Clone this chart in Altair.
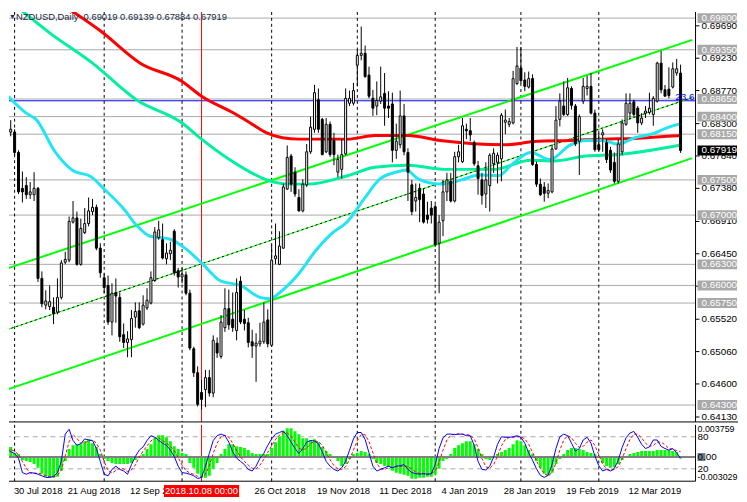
import altair as alt
import pandas as pd

FONT = "Liberation Sans"

# ---------------- daily candles, bar 0 = 30 Jul 2018 ... bar 173 = last bar ----------------
opens = [
0.6795,0.6818,0.6818,0.6789,0.6738,0.6742,0.6729,0.6729,0.6738,0.6610,
0.6572,0.6570,0.6569,0.6562,0.6583,0.6633,0.6636,0.6690,0.6696,0.6630,
0.6675,0.6688,0.6705,0.6711,0.6653,0.6611,0.6600,0.6548,0.6590,0.6583,
0.6530,0.6519,0.6523,0.6555,0.6564,0.6545,0.6568,0.6575,0.6607,0.6668,
0.6665,0.6638,0.6645,0.6677,0.6621,0.6612,0.6615,0.6589,0.6510,0.6476,
0.6448,0.6452,0.6469,0.6447,0.6518,0.6499,0.6540,0.6567,0.6552,0.6536,
0.6606,0.6552,0.6547,0.6520,0.6514,0.6517,0.6520,0.6551,0.6515,0.6638,
0.6630,0.6653,0.6737,0.6784,0.6761,0.6725,0.6706,0.6743,0.6790,0.6822,
0.6864,0.6836,0.6790,0.6829,0.6806,0.6761,0.6765,0.6787,0.6859,0.6859,
0.6913,0.6927,0.6930,0.6899,0.6866,0.6855,0.6862,0.6873,0.6855,0.6858,
0.6792,0.6800,0.6841,0.6789,0.6743,0.6720,0.6738,0.6730,0.6700,0.6710,
0.6712,0.6660,0.6692,0.6733,0.6748,0.6720,0.6783,0.6776,0.6822,0.6820,
0.6803,0.6770,0.6750,0.6730,0.6742,0.6773,0.6775,0.6780,0.6832,0.6829,
0.6831,0.6887,0.6909,0.6892,0.6882,0.6894,0.6772,0.6744,0.6740,0.6731,
0.6733,0.6794,0.6836,0.6855,0.6843,0.6880,0.6855,0.6805,0.6862,0.6880,
0.6883,0.6845,0.6800,0.6814,0.6803,0.6792,0.6775,0.6748,0.6790,0.6829,
0.6845,0.6861,0.6852,0.6831,0.6845,0.6846,0.6843,0.6862,0.6916,0.6878,
0.6879,0.6882,0.6902,0.69019]
highs = [
0.6835,0.6835,0.6822,0.6792,0.6762,0.6754,0.6747,0.6761,0.6740,0.6620,
0.6593,0.6600,0.6583,0.6610,0.6636,0.6648,0.6698,0.6720,0.6705,0.6695,
0.6710,0.6725,0.6723,0.6715,0.6660,0.6617,0.6614,0.6603,0.6610,0.6590,
0.6546,0.6535,0.6565,0.6576,0.6576,0.6586,0.6596,0.6620,0.6683,0.6692,
0.6688,0.6660,0.6662,0.6680,0.6625,0.6625,0.6620,0.6594,0.6513,0.6485,
0.6466,0.6480,0.6480,0.6529,0.6526,0.6558,0.6596,0.6594,0.6590,0.6610,
0.6613,0.6565,0.6554,0.6537,0.6532,0.6547,0.6576,0.6566,0.6658,0.6688,
0.6677,0.6745,0.6799,0.6787,0.6768,0.6737,0.6751,0.6801,0.6840,0.6885,
0.6880,0.6838,0.6838,0.6833,0.6817,0.6786,0.6808,0.6880,0.6877,0.6888,
0.6935,0.6968,0.6941,0.6911,0.6878,0.6890,0.6911,0.6902,0.6876,0.6874,
0.6830,0.6877,0.6858,0.6795,0.6750,0.6745,0.6745,0.6738,0.6719,0.6720,
0.6715,0.6700,0.6750,0.6760,0.6760,0.6790,0.6800,0.6838,0.6830,0.6838,
0.6806,0.6777,0.6760,0.6775,0.6788,0.6795,0.6789,0.6845,0.6850,0.6838,
0.6905,0.6939,0.6939,0.6903,0.6904,0.6900,0.6776,0.6752,0.6747,0.6745,
0.6800,0.6855,0.6873,0.6890,0.6895,0.6883,0.6858,0.6843,0.6895,0.6898,
0.6902,0.6850,0.6817,0.6822,0.6808,0.6797,0.6789,0.6808,0.6836,0.6873,
0.6873,0.6864,0.6855,0.6845,0.6855,0.6874,0.6869,0.6918,0.6933,0.6885,
0.6910,0.6917,0.6922,0.69139]
lows = [
0.6785,0.6812,0.6785,0.6730,0.6718,0.6723,0.6723,0.6720,0.6605,0.6569,
0.6566,0.6565,0.6545,0.6559,0.6580,0.6630,0.6633,0.6688,0.6628,0.6628,
0.6673,0.6684,0.6700,0.6650,0.6611,0.6589,0.6544,0.6529,0.6547,0.6520,
0.6511,0.6498,0.6498,0.6540,0.6538,0.6543,0.6565,0.6573,0.6605,0.6665,
0.6637,0.6630,0.6636,0.6614,0.6597,0.6603,0.6586,0.6508,0.6470,0.6428,
0.6424,0.6427,0.6442,0.6441,0.6497,0.6496,0.6534,0.6537,0.6534,0.6522,
0.6545,0.6536,0.6512,0.6497,0.6463,0.6513,0.6517,0.6512,0.6513,0.6630,
0.6629,0.6652,0.6736,0.6733,0.6726,0.6705,0.6704,0.6740,0.6787,0.6817,
0.6817,0.6785,0.6788,0.6783,0.6771,0.6754,0.6752,0.6785,0.6855,0.6856,
0.6883,0.6920,0.6895,0.6866,0.6841,0.6842,0.6858,0.6827,0.6838,0.6775,
0.6780,0.6795,0.6785,0.6720,0.6700,0.6705,0.6690,0.6688,0.6688,0.6688,
0.6655,0.6589,0.6670,0.6720,0.6718,0.6718,0.6775,0.6774,0.6808,0.6805,
0.6770,0.6729,0.6715,0.6710,0.6705,0.6760,0.6745,0.6748,0.6815,0.6825,
0.6829,0.6885,0.6887,0.6876,0.6880,0.6770,0.6740,0.6727,0.6719,0.6724,
0.6731,0.6793,0.6826,0.6841,0.6841,0.6850,0.6798,0.6757,0.6858,0.6870,
0.6843,0.6790,0.6790,0.6790,0.6774,0.6760,0.6745,0.6745,0.6785,0.6827,
0.6836,0.6840,0.6817,0.6828,0.6838,0.6843,0.6827,0.6860,0.6873,0.6869,
0.6866,0.6880,0.6898,0.67884]
closes = [
0.6830,0.6822,0.6789,0.6733,0.6733,0.6729,0.6733,0.6738,0.6610,0.6574,
0.6578,0.6577,0.6560,0.6583,0.6632,0.6637,0.6691,0.6696,0.6630,0.6681,
0.6688,0.6706,0.6711,0.6653,0.6618,0.6597,0.6548,0.6589,0.6585,0.6527,
0.6519,0.6524,0.6553,0.6563,0.6540,0.6572,0.6579,0.6611,0.6676,0.6679,
0.6639,0.6646,0.6650,0.6618,0.6612,0.6616,0.6589,0.6511,0.6476,0.6431,
0.6438,0.6469,0.6447,0.6522,0.6504,0.6548,0.6567,0.6544,0.6540,0.6590,
0.6548,0.6546,0.6519,0.6514,0.6518,0.6521,0.6548,0.6517,0.6636,0.6642,
0.6656,0.6740,0.6782,0.6744,0.6730,0.6706,0.6744,0.6790,0.6825,0.6874,
0.6822,0.6786,0.6829,0.6786,0.6786,0.6779,0.6786,0.6866,0.6866,0.6877,
0.6927,0.6930,0.6897,0.6869,0.6852,0.6863,0.6868,0.6852,0.6852,0.6792,
0.6805,0.6841,0.6790,0.6761,0.6705,0.6725,0.6722,0.6690,0.6694,0.6700,
0.6658,0.6690,0.6733,0.6750,0.6720,0.6783,0.6790,0.6827,0.6820,0.6814,
0.6773,0.6752,0.6728,0.6750,0.6785,0.6788,0.6785,0.6842,0.6835,0.6833,
0.6894,0.6912,0.6891,0.6883,0.6894,0.6772,0.6744,0.6729,0.6731,0.6735,
0.6794,0.6835,0.6862,0.6843,0.6881,0.6856,0.6801,0.6840,0.6883,0.6883,
0.6845,0.6793,0.6793,0.6817,0.6779,0.6764,0.6748,0.6801,0.6831,0.6859,
0.6859,0.6843,0.6831,0.6838,0.6848,0.6852,0.6866,0.6916,0.6878,0.6869,
0.6870,0.6908,0.6908,0.67919]

# ---------------- moving averages ----------------
red_ma_bar = [14, 24.25, 34.25, 45, 50, 58.25, 62.5, 66.75, 70.75, 75, 87.5, 94.5, 103,
              111.25, 128, 136.25, 144.5, 153, 161.25, 169.5, 173.25]
red_ma_val = [0.7000, 0.6961, 0.6916, 0.6890, 0.6869, 0.6845, 0.6831, 0.6817, 0.6810, 0.6808,
              0.6808, 0.6813, 0.6813, 0.6806, 0.6800, 0.6805, 0.6806, 0.6808, 0.6809, 0.6812, 0.6813]
teal_ma_bar = [2, 11.25, 22, 33.25, 45, 50, 58.25, 62.5, 66.75, 72.5, 77.5, 87.5, 94.5, 103,
               112.5, 125, 134.5, 140.5, 148.75, 157, 169.5, 173.25]
teal_ma_val = [0.6999, 0.6958, 0.6916, 0.6864, 0.6831, 0.6808, 0.6775, 0.6761, 0.6750, 0.6744,
               0.6744, 0.6756, 0.6768, 0.6771, 0.6765, 0.6765, 0.6778, 0.6777, 0.6784, 0.6786,
               0.6796, 0.6800]
cyan_ma_bar = [0, 5, 7.5, 12.5, 16.75, 21.75, 25, 30, 33.25, 36.75, 41.75, 45.75, 50, 55, 60,
               65, 67.5, 70.75, 75, 79.25, 83.25, 87.5, 91.75, 95.75, 100, 102.5, 105.75, 111.25,
               116.75, 121.25, 126.25, 129.5, 134.5, 139.5, 144.5, 148.75, 153, 157, 161.25,
               165.5, 169.5, 173]
cyan_ma_val = [0.6871, 0.6845, 0.6836, 0.6789, 0.6764, 0.6754, 0.6737, 0.6709, 0.6686, 0.6670,
               0.6666, 0.6653, 0.6632, 0.6606, 0.6600, 0.6583, 0.6581, 0.6593, 0.6617, 0.6649,
               0.6673, 0.6691, 0.6723, 0.6751, 0.6761, 0.6764, 0.6751, 0.6744, 0.6750, 0.6757,
               0.6756, 0.6771, 0.6789, 0.6779, 0.6799, 0.6806, 0.6806, 0.6801, 0.6810, 0.6815,
               0.6824, 0.6830]

# ---------------- channel, levels, annotations ----------------
channel_outer_bar = [0, 176, 0, 176]
channel_outer_val = [0.6624, 0.6949, 0.6452, 0.6781]
channel_outer_id = ["upper", "upper", "lower", "lower"]
channel_mid_bar = [0, 176]
channel_mid_val = [0.6537, 0.6867]

level_vals = [0.6980, 0.6935, 0.6865, 0.6840, 0.6815, 0.6750, 0.6700, 0.6630, 0.6600, 0.6575, 0.6430]
fib_val = 0.68625
fib_text = "23.6"
last_close = 0.67919
axis_vals = [0.6969, 0.6923, 0.6877, 0.6830, 0.6784, 0.6738, 0.6691, 0.6645, 0.6599,
             0.6552, 0.6506, 0.6460, 0.6413]
title_text = "NZDUSD,Daily\u00a0 0.69019 0.69139 0.67884 0.67919"

month_sep_bars = [2, 25, 45, 68, 90, 110, 132, 152]
cursor_bar = 50
cursor_label = "2018.10.08 00:00"
date_bars = [0, 16, 32, 64, 80, 96, 112, 128, 144, 160]
date_texts = ["30 Jul 2018", "21 Aug 2018", "12 Sep 2018", "26 Oct 2018", "19 Nov 2018",
              "11 Dec 2018", "4 Jan 2019", "28 Jan 2019", "19 Feb 2019", "12 Mar 2019"]

# ---------------- oscillators ----------------
osma = [
0.00118,0.00118,0.00047,0.00035,-0.00035,-0.00047,-0.00059,-0.00082,-0.00129,-0.00200,
-0.00235,-0.00247,-0.00247,-0.00235,-0.00165,-0.00047,0.00094,0.00141,0.00153,0.00153,
0.00188,0.00212,0.00165,0.00118,0.00035,-0.00024,-0.00047,-0.00071,-0.00082,-0.00082,
-0.00082,-0.00082,-0.00071,-0.00035,-0.00012,0.00035,0.00094,0.00153,0.00223,0.00259,
0.00259,0.00235,0.00188,0.00129,0.00094,0.00047,0.00035,-0.00071,-0.00129,-0.00200,
-0.00247,-0.00247,-0.00223,-0.00141,-0.00071,0.00035,0.00094,0.00153,0.00153,0.00129,
0.00118,0.00106,0.00082,0.00047,0.00035,0.00035,0.00035,0.00035,0.00106,0.00176,
0.00247,0.00306,0.00341,0.00341,0.00306,0.00270,0.00223,0.00223,0.00200,0.00212,
0.00176,0.00118,0.00071,0.00035,0.00006,-0.00047,-0.00106,-0.00082,-0.00024,0.00035,
0.00047,0.00071,0.00059,0.00035,-0.00024,-0.00071,-0.00082,-0.00106,-0.00118,-0.00165,
-0.00188,-0.00200,-0.00212,-0.00223,-0.00259,-0.00259,-0.00247,-0.00247,-0.00235,-0.00235,
-0.00212,-0.00141,-0.00047,-0.00024,0.00035,0.00106,0.00141,0.00165,0.00188,0.00188,
0.00153,0.00094,0.00035,-0.00024,-0.00035,-0.00012,0.00035,0.00059,0.00082,0.00106,
0.00153,0.00200,0.00188,0.00141,0.00082,0.00035,-0.00047,-0.00129,-0.00200,-0.00223,
-0.00188,-0.00082,-0.00024,0.00035,0.00082,0.00106,0.00106,0.00094,0.00082,0.00059,
0.00047,0.00035,-0.00012,-0.00071,-0.00106,-0.00129,-0.00118,-0.00082,-0.00035,0.00012,
0.00035,0.00047,0.00059,0.00071,0.00071,0.00071,0.00071,0.00082,0.00082,0.00082,
0.00082,0.00071,0.00059,-0.00018]
stoch_main = [
58,52,49,40,13,10,13,12,10,7,
4,4,6,13,34,85,94,73,64,67,
76,74,73,58,34,10,7,19,25,19,
16,10,28,43,55,61,73,82,79,73,
68,64,55,43,25,13,12,10,7,2,
4,25,49,73,82,85,82,70,52,40,
34,28,19,16,25,40,49,64,76,85,
88,91,82,70,58,49,58,70,73,72,
67,52,34,25,19,16,22,34,55,76,
88,88,75,50,25,16,19,22,25,22,
25,26,28,19,13,11,10,11,10,11,
28,58,78,85,85,84,85,85,82,82,
64,34,19,18,25,42,66,80,79,79,
80,82,79,68,50,36,20,8,4,8,
28,58,80,85,82,68,53,58,74,79,
68,44,26,16,19,16,21,36,60,78,
87,90,79,66,58,61,74,74,62,58,
55,58,50,39.85]
stoch_signal = [
60,56,53,47,34,21,12,12,12,10,
7,5,5,8,18,44,71,84,77,68,
69,72,74,68,55,34,17,12,17,21,
20,15,18,27,42,53,63,72,78,78,
73,68,62,54,41,27,17,12,10,6,
4,10,26,49,68,80,83,79,68,54,
42,34,27,21,20,27,38,51,63,75,
83,88,87,81,70,59,55,59,67,72,
71,64,51,37,26,20,19,24,37,55,
73,84,84,71,50,30,20,19,22,23,
24,24,26,24,20,14,11,11,10,11,
16,32,55,74,83,85,85,85,84,83,
76,60,39,24,21,28,44,63,75,79,
79,80,80,76,66,51,35,21,11,7,
13,31,55,74,82,78,68,60,62,70,
74,64,46,29,20,17,19,24,39,58,
75,85,85,78,68,62,64,70,70,65,
58,57,54,52.25]
stoch_levels = [80, 20]
osma_top_label, osma_bottom_label = 0.003759, -0.003029

# ---------------- frames ----------------
n = len(opens)
bars = list(range(n))
cdf = pd.DataFrame({"bar": bars, "o": opens, "h": highs, "l": lows, "c": closes})
cdf["dir"] = ["up" if c >= o else "down" for o, c in zip(opens, closes)]

W, H, OH = 695, 415, 57
xs = alt.Scale(domain=[1.825, 175.575], nice=False, zero=False)
ys = alt.Scale(domain=[0.6406, 0.69887], nice=False, zero=False)
BOX = "M-1,-0.25L1,-0.25L1,0.25L-1,0.25Z"
WIDEBOX = "M-1,-0.16L1,-0.16L1,0.16L-1,0.16Z"


def X(f):
    return alt.X(f, type="quantitative", scale=xs, axis=None)


def Y(f, scale=ys):
    return alt.Y(f, type="quantitative", scale=scale, axis=None)


one = pd.DataFrame({"k": [0]})

lvl_df = pd.DataFrame({"p": level_vals, "t": [f"{v:.5f}" for v in level_vals]})
levels = alt.Chart(lvl_df).mark_rule(color="#A9A9A9", strokeWidth=1).encode(y=Y("p"))
fib = alt.Chart(pd.DataFrame({"p": [fib_val], "t": [fib_text]})).mark_rule(
    color="#0000FF", strokeWidth=1).encode(y=Y("p"))
fib_t = alt.Chart(pd.DataFrame({"p": [fib_val], "t": [fib_text]})).mark_text(
    align="right", baseline="bottom", fontSize=10, color="#0000FF", dy=1).encode(
    x=alt.value(694), y=Y("p"), text="t:N")

months = pd.DataFrame({"bar": month_sep_bars})
vsep = alt.Chart(months).mark_rule(color="black", strokeDash=[3, 3], strokeWidth=1).encode(x=X("bar"))
cur = pd.DataFrame({"bar": [cursor_bar], "t": [cursor_label]})
vred = alt.Chart(cur).mark_rule(color="#FF0000", strokeWidth=1).encode(x=X("bar"))

ch_df = pd.DataFrame({"bar": channel_outer_bar, "p": channel_outer_val, "id": channel_outer_id})
chan = alt.Chart(ch_df).mark_line(color="#00FF00", strokeWidth=2, clip=True).encode(
    x=X("bar"), y=Y("p"), detail="id:N")
mid_df = pd.DataFrame({"bar": channel_mid_bar, "p": channel_mid_val})
mid = alt.Chart(mid_df).mark_line(color="#00FF00", strokeWidth=1, clip=True).encode(x=X("bar"), y=Y("p"))
mid2 = alt.Chart(mid_df).mark_line(color="black", strokeWidth=1, strokeDash=[2, 3], clip=True).encode(
    x=X("bar"), y=Y("p"))


def ma(b, v, color):
    return alt.Chart(pd.DataFrame({"bar": b, "p": v})).mark_line(
        color=color, strokeWidth=3, clip=True, interpolate="monotone").encode(x=X("bar"), y=Y("p"))


teal = ma(teal_ma_bar, teal_ma_val, "#00F0A0")
red = ma(red_ma_bar, red_ma_val, "#FF0000")
cyan = ma(cyan_ma_bar, cyan_ma_val, "#22E4F2")

wick = alt.Chart(cdf).mark_rule(color="black", strokeWidth=1, clip=True).encode(
    x=X("bar"), y=Y("l"), y2="h:Q")
body = alt.Chart(cdf).mark_bar(size=2, stroke="black", strokeWidth=1, clip=True).encode(
    x=X("bar"), y=Y("o"), y2="c:Q",
    fill=alt.Fill("dir:N", scale=alt.Scale(domain=["up", "down"], range=["white", "black"]), legend=None))

title = alt.Chart(one).mark_text(align="left", baseline="top", fontSize=9.5, color="#202a44").encode(
    x=alt.value(7), y=alt.value(0), text=alt.value(title_text))
tri = alt.Chart(one).mark_text(align="left", baseline="top", fontSize=7, color="#202a44").encode(
    x=alt.value(0), y=alt.value(1), text=alt.value("\u25bc"))

# right price scale: domain line, ticks, labels
ax_df = pd.DataFrame({"p": axis_vals, "t": [f"{v:.5f}" for v in axis_vals]})
ax_line = alt.Chart(one).mark_rule(color="black", strokeWidth=1).encode(
    x=alt.value(W), y=alt.value(0), y2=alt.value(H))
ax_ticks = alt.Chart(ax_df).mark_rule(color="black", strokeWidth=1).encode(
    x=alt.value(W), x2=alt.value(W + 4), y=Y("p"))
ax_text = alt.Chart(ax_df).mark_text(align="left", baseline="middle", fontSize=10, color="black").encode(
    x=alt.value(W + 6), y=Y("p"), text="t:N")

boxes = alt.Chart(lvl_df).mark_point(shape=BOX, size=1600, filled=True, color="#A9A9A9",
                                     opacity=1, strokeWidth=0).encode(x=alt.value(717), y=Y("p"))
box_t = alt.Chart(lvl_df).mark_text(align="left", baseline="middle", fontSize=10, color="white").encode(
    x=alt.value(701), y=Y("p"), text="t:N")
lc_df = pd.DataFrame({"p": [last_close], "t": [f"{last_close:.5f}"]})
lc_box = alt.Chart(lc_df).mark_point(shape=BOX, size=1600, filled=True, color="black",
                                     opacity=1, strokeWidth=0).encode(x=alt.value(717), y=Y("p"))
lc_t = alt.Chart(lc_df).mark_text(align="left", baseline="middle", fontSize=10, color="white").encode(
    x=alt.value(701), y=Y("p"), text="t:N")
sep = alt.Chart(one).mark_rule(color="black", strokeWidth=1).encode(
    x=alt.value(0), x2=alt.value(738), y=alt.value(H))

price = alt.layer(levels, fib, vsep, vred, chan, mid, mid2, teal, red, cyan, wick, body,
                  title, tri, fib_t, ax_line, ax_ticks, ax_text, boxes, box_t, lc_box, lc_t,
                  sep).properties(width=W, height=H)

# ---------------- oscillator panel ----------------
odf = pd.DataFrame({"bar": bars, "osma": osma, "zero": [0.0] * n,
                    "main": stoch_main, "sig": stoch_signal})
oss = alt.Scale(domain=[-0.00288, 0.00382], nice=False, zero=False)
sts = alt.Scale(domain=[-3.1, 102.2], nice=False, zero=False)

o_vsep = alt.Chart(months).mark_rule(color="black", strokeDash=[3, 3], strokeWidth=1).encode(x=X("bar"))
o_vred = alt.Chart(cur).mark_rule(color="#FF0000", strokeWidth=1).encode(x=X("bar"))
st_lv = alt.Chart(pd.DataFrame({"s": stoch_levels, "t": [str(v) for v in stoch_levels]})).mark_rule(
    color="#A9A9A9", strokeDash=[5, 4], strokeWidth=1).encode(y=Y("s", sts))
hist = alt.Chart(odf).mark_bar(size=3, color="#00FF00", clip=True).encode(
    x=X("bar"), y=Y("osma", oss), y2="zero:Q")
zline = alt.Chart(pd.DataFrame({"v": [0.0]})).mark_rule(color="#808080", strokeWidth=2).encode(y=Y("v", oss))
sig = alt.Chart(odf).mark_line(color="#FF0000", strokeWidth=1, strokeDash=[3, 2], clip=True).encode(
    x=X("bar"), y=Y("sig", sts))
main = alt.Chart(odf).mark_line(color="#0000FF", strokeWidth=1, clip=True).encode(
    x=X("bar"), y=Y("main", sts))

lab_top = alt.Chart(pd.DataFrame({"v": [osma_top_label], "t": ["0.003759"]})).mark_text(
    align="left", baseline="top", fontSize=9, color="black", limit=41, ellipsis="").encode(
    x=alt.value(697), y=Y("v", oss), text="t:N")
lab_bot = alt.Chart(pd.DataFrame({"v": [osma_bottom_label], "t": ["-0.003029"]})).mark_text(
    align="left", baseline="bottom", fontSize=9, color="black", limit=41, ellipsis="").encode(
    x=alt.value(697), y=Y("v", oss), text="t:N")
lab_zero_box = alt.Chart(pd.DataFrame({"v": [0.0]})).mark_point(
    shape="square", size=64, filled=True, color="#6E7B8B", opacity=1, strokeWidth=0).encode(
    x=alt.value(701), y=Y("v", oss))
lab_zero = alt.Chart(pd.DataFrame({"v": [0.0], "t": ["0.00"]})).mark_text(
    align="left", baseline="middle", fontSize=10, color="black").encode(
    x=alt.value(697), y=Y("v", oss), text="t:N")
lab_st = alt.Chart(pd.DataFrame({"s": stoch_levels, "t": [str(v) for v in stoch_levels]})).mark_text(
    align="left", baseline="middle", fontSize=10, color="black").encode(
    x=alt.value(697), y=Y("s", sts), text="t:N")

r_border = alt.Chart(one).mark_rule(color="black", strokeWidth=1).encode(
    x=alt.value(W), y=alt.value(0), y2=alt.value(OH))
b_border = alt.Chart(one).mark_rule(color="black", strokeWidth=1).encode(
    x=alt.value(0), x2=alt.value(W), y=alt.value(OH))

dl = pd.DataFrame({"bar": date_bars, "t": date_texts})
dl["xp"] = [max(b, 2.2) for b in date_bars]
dates = alt.Chart(dl).mark_text(align="left", baseline="middle", fontSize=9.5, color="black", dx=-1.5).encode(
    x=X("xp"), y=alt.value(67), text="t:N")
cur_box = alt.Chart(cur).mark_point(shape=WIDEBOX, size=5776, filled=True, color="#FF0000",
                                    opacity=1, strokeWidth=0).encode(x=X("bar"), y=alt.value(67))
cur_t = alt.Chart(cur).mark_text(align="center", baseline="middle", fontSize=9.5, color="white").encode(
    x=X("bar"), y=alt.value(67), text="t:N")

osc = alt.layer(o_vsep, o_vred, st_lv, hist, zline, sig, main, lab_top, lab_st, lab_zero_box,
                lab_zero, lab_bot, r_border, b_border, dates, cur_box, cur_t).resolve_scale(
    y="independent").properties(width=W, height=OH)

chart = alt.vconcat(price, osc, spacing=1, padding=0, background="white").configure_view(
    stroke=None).configure_text(font=FONT)

chart.save("out.html", embed_options={"renderer": "svg", "actions": False})
